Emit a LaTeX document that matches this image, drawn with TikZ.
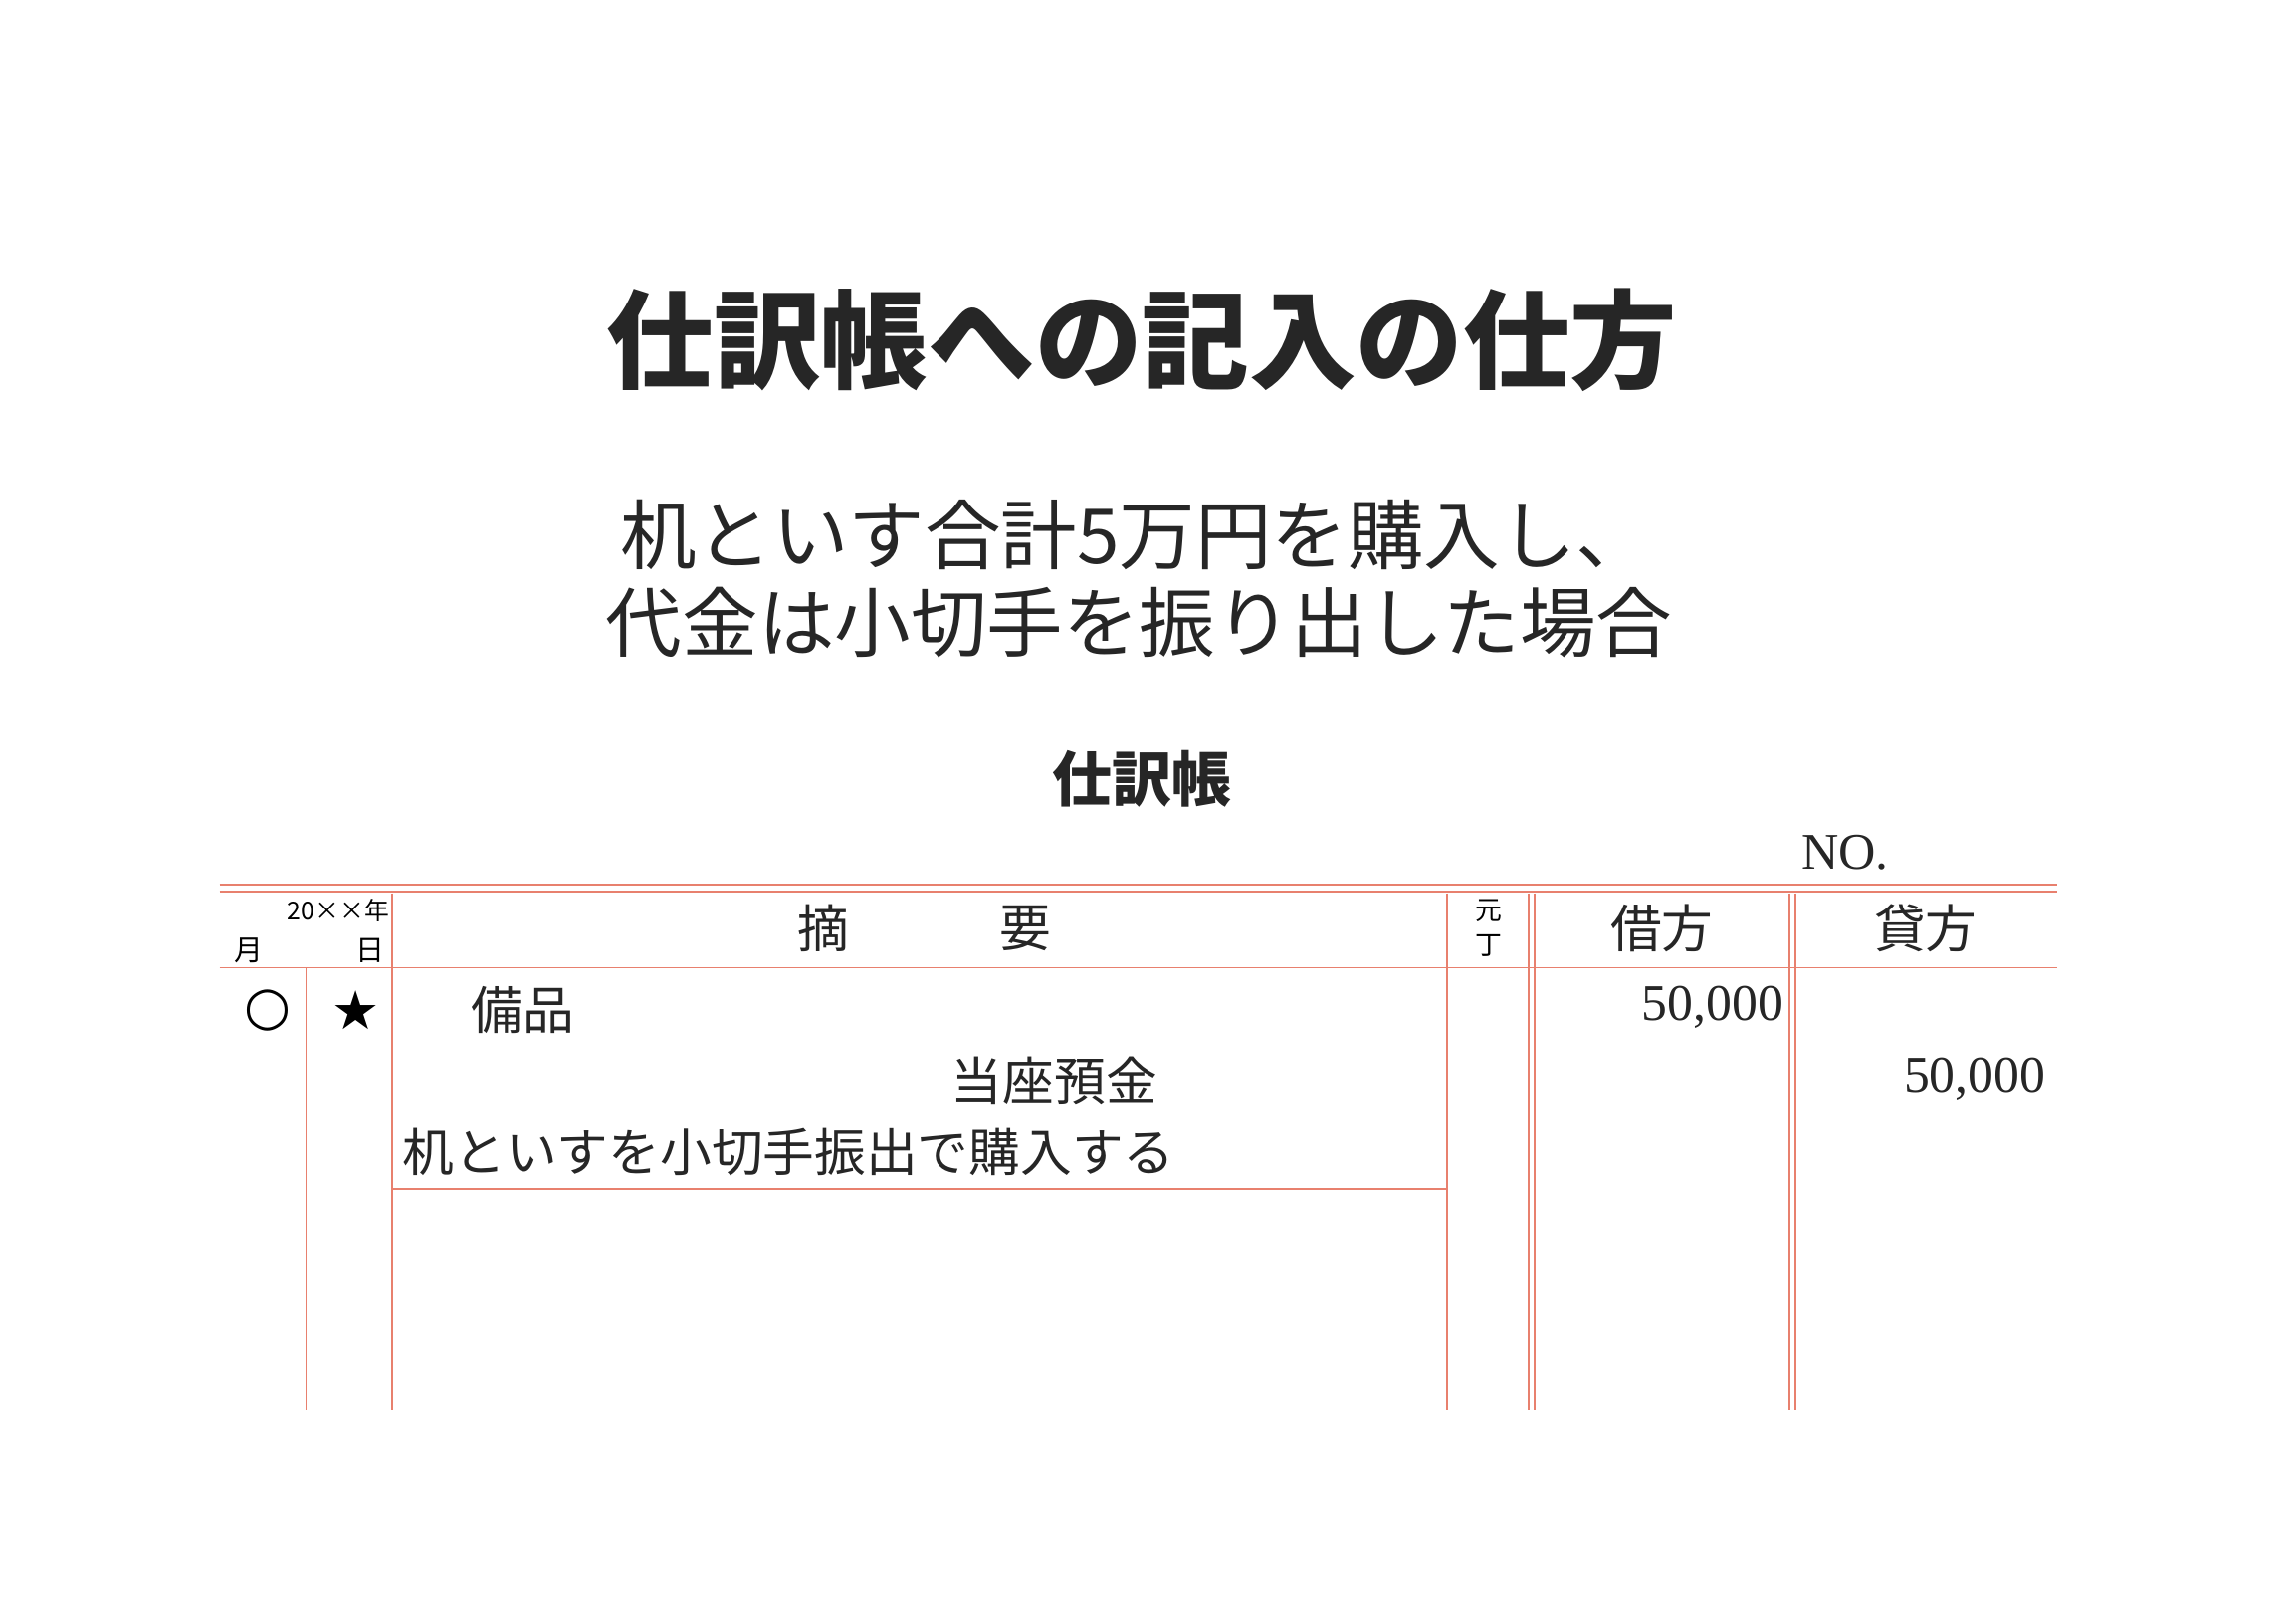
\documentclass[tikz,border=0pt]{standalone}
\usepackage{fontspec}
\setmainfont{Liberation Serif}
\newfontfamily\jp{Noto Sans CJK JP}
\newfontfamily\jpb{Noto Sans CJK JP}[BoldFont={* Bold}]
\newfontfamily\sym{DejaVu Sans}
\definecolor{rl}{RGB}{232,128,110}
\begin{document}
\begin{tikzpicture}[x=0.5mm,y=-0.5mm,
  rule/.style={draw=rl,line width=1.7pt},
  txt/.style={inner sep=0pt,font=\jp\fontsize{50}{54}\selectfont,text=black!85},
  num/.style={inner sep=0pt,font=\fontsize{50}{54}\selectfont,text=black!85}]
\useasboundingbox[fill=white] (0,0) rectangle (1568,1103);
\node[inner sep=0pt,font=\jp\fontsize{104}{110}\selectfont\bfseries,text=black!85] (title) at (780,232) {仕訳帳への記入の仕方};
\node[inner sep=0pt,font=\jp\fontsize{74}{80}\selectfont,text=black!85] (s1) at (776,365) {机といす合計5万円を購入し、};
\node[inner sep=0pt,font=\jp\fontsize{74}{80}\selectfont,text=black!85] (s2) at (778,425) {代金は小切手を振り出した場合};
\node[inner sep=0pt,font=\jp\fontsize{58}{60}\selectfont\bfseries,text=black!85] (jt) at (780,532) {仕訳帳};
\node[num] (no) at (1260,582) {NO.};
% lines
\draw[rule] (150,604) -- (1405,604);
\draw[rule] (150,609) -- (1405,609);
\draw[rule] (150,661) -- (1405,661);
\draw[rule] (268,812) -- (988,812);
\draw[rule] (209,661) -- (209,963);
\draw[rule] (268,610) -- (268,963);
\draw[rule] (988,610) -- (988,963);
\draw[rule] (1044,610) -- (1044,963);
\draw[rule] (1048,610) -- (1048,963);
\draw[rule] (1222,610) -- (1222,963);
\draw[rule] (1226,610) -- (1226,963);
% header
\node[inner sep=0pt,font=\jp\fontsize{24}{26}\selectfont] (yr) at (231,622) {20××年};
\node[inner sep=0pt,font=\jp\fontsize{28}{30}\selectfont] (m) at (170,649) {月};
\node[inner sep=0pt,font=\jp\fontsize{28}{30}\selectfont] (d) at (253,649) {日};
\node[txt] (h1) at (562,634) {摘};
\node[txt] (h2) at (700,634) {要};
\node[inner sep=0pt,font=\jp\fontsize{26}{28}\selectfont] (g1) at (1017,622) {元};
\node[inner sep=0pt,font=\jp\fontsize{26}{28}\selectfont] (g2) at (1017,646) {丁};
\node[txt] (dr) at (1135,634) {借方};
\node[txt] (cr) at (1315,634) {貸方};
% body
\node[inner sep=0pt,font=\sym\fontsize{52}{56}\selectfont] (c) at (183,690) {○};
\node[inner sep=0pt,font=\sym\fontsize{52}{56}\selectfont] (st) at (243,690) {★};
\node[txt,anchor=west] (b1) at (322,690) {備品};
\node[num,anchor=east] (n1) at (1218,688) {50,000};
\node[txt] (b2) at (720,738) {当座預金};
\node[num,anchor=east] (n2) at (1397,737) {50,000};
\node[txt,anchor=west] (b3) at (275,787) {机といすを小切手振出で購入する};
\end{tikzpicture}
\end{document}
